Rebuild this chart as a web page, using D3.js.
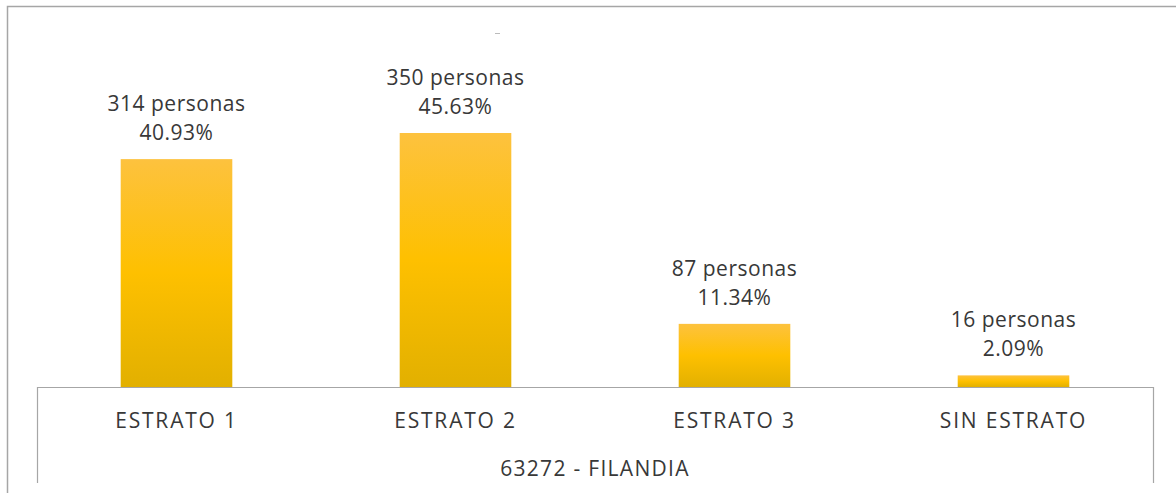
<!DOCTYPE html>
<html>
<head>
<meta charset="utf-8">
<script src="https://cdn.jsdelivr.net/npm/d3@7"></script>
<style>
  html, body { margin: 0; padding: 0; background: #fff; }
  svg { display: block; }
  text { font-family: "Open Sans", "Liberation Sans", sans-serif; fill: #383838; }
</style>
</head>
<body>
<svg id="chart" width="1176" height="493"></svg>
<script>
// data
const categories = ['ESTRATO 1', 'ESTRATO 2', 'ESTRATO 3', 'SIN ESTRATO'];
const personas = [314, 350, 87, 16];
const percents = ['40.93%', '45.63%', '11.34%', '2.09%'];
const groupLabel = '63272 - FILANDIA';

const svg = d3.select('#chart'),
  width = +svg.attr('width'),
  height = +svg.attr('height');

const plot = {left: 37, right: 1153, base: 387, bottom: 483};

const defs = svg.append('defs');
const grad = defs.append('linearGradient')
  .attr('id', 'gold')
  .attr('x1', 0).attr('y1', 0).attr('x2', 0).attr('y2', 1);
grad.append('stop').attr('offset', '0%').attr('stop-color', '#fdc23e');
grad.append('stop').attr('offset', '50%').attr('stop-color', '#fec000');
grad.append('stop').attr('offset', '100%').attr('stop-color', '#e2b000');

// outer frame (only left and top visible)
svg.append('path')
  .attr('d', 'M7.5,' + height + 'V6.5H' + width)
  .attr('fill', 'none')
  .attr('stroke', '#a6a6a6')
  .attr('stroke-width', 1.5);

// small remnant mark near the top
svg.append('line')
  .attr('x1', 495).attr('x2', 500)
  .attr('y1', 33.5).attr('y2', 33.5)
  .attr('stroke', '#bbb');

const x = d3.scaleBand()
  .domain(categories)
  .range([plot.left, plot.right])
  .paddingInner(0.6)
  .paddingOuter(0.3);

const y = d3.scaleLinear()
  .domain([0, 350])
  .range([plot.base, 133]);

const data = categories.map((c, i) => ({cat: c, n: personas[i], pct: percents[i]}));

svg.append('g')
  .selectAll('rect')
  .data(data)
  .enter().append('rect')
  .attr('x', d => x(d.cat))
  .attr('y', d => y(d.n))
  .attr('width', x.bandwidth())
  .attr('height', d => y(0) - y(d.n))
  .attr('fill', 'url(#gold)');

const labels = svg.append('g')
  .selectAll('text')
  .data(data)
  .enter().append('text')
  .attr('x', d => x(d.cat) + x.bandwidth() / 2)
  .attr('y', d => y(d.n) - 48)
  .attr('text-anchor', 'middle')
  .style('font-size', '21px')
  .style('letter-spacing', '0.5px');
labels.append('tspan').text(d => d.n + ' personas');
labels.append('tspan')
  .attr('x', d => x(d.cat) + x.bandwidth() / 2)
  .attr('dy', 29)
  .text(d => d.pct);

// axis box
svg.append('path')
  .attr('d', 'M' + (plot.left + 0.5) + ',' + plot.bottom +
    'V' + (plot.base + 0.5) + 'H' + (plot.right + 0.5) + 'V' + plot.bottom)
  .attr('fill', 'none')
  .attr('stroke', '#a6a6a6')
  .attr('stroke-width', 1.2);

const xAxis = svg.append('g')
  .attr('transform', 'translate(0,' + plot.base + ')')
  .call(d3.axisBottom(x).tickSize(0).tickPadding(0));
xAxis.select('.domain').remove();
xAxis.selectAll('text')
  .attr('y', 41)
  .attr('dy', null)
  .style('font-size', '21px')
  .style('letter-spacing', '1.8px')
  .style('font-family', '"Open Sans", "Liberation Sans", sans-serif')
  .attr('fill', '#383838');

svg.append('text')
  .attr('x', (plot.left + plot.right) / 2)
  .attr('y', 476)
  .attr('text-anchor', 'middle')
  .style('font-size', '21px')
  .style('letter-spacing', '1.3px')
  .text(groupLabel);
</script>
</body>
</html>
